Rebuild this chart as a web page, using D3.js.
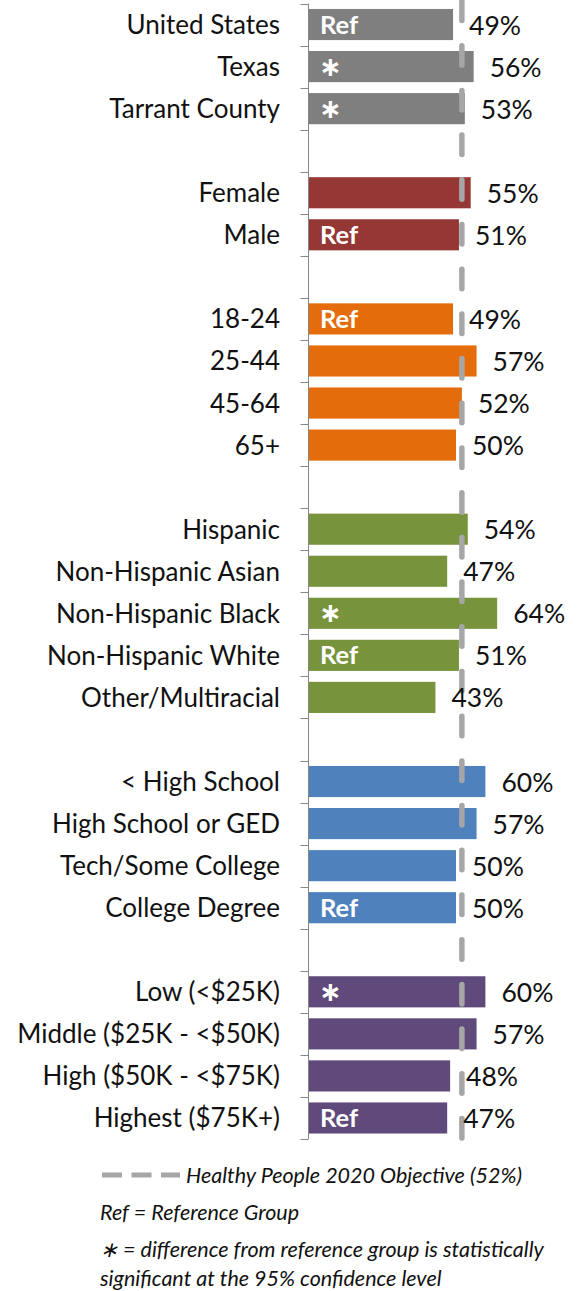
<!DOCTYPE html>
<html>
<head>
<meta charset="utf-8">
<script src="https://cdn.jsdelivr.net/npm/d3@7"></script>
<style>
  html, body { margin: 0; padding: 0; background: #fff; }
  svg { display: block; }
</style>
</head>
<body>
<svg id="chart" width="580" height="1291"></svg>
<script>
// ---- data ----
const geoLabels = ["United States", "Texas", "Tarrant County"];
const geoValues = [49, 56, 53];
const geoNotes = ["Ref", "*", "*"];

const genderLabels = ["Female", "Male"];
const genderValues = [55, 51];
const genderNotes = ["", "Ref"];

const ageLabels = ["18-24", "25-44", "45-64", "65+"];
const ageValues = [49, 57, 52, 50];
const ageNotes = ["Ref", "", "", ""];

const raceLabels = ["Hispanic", "Non-Hispanic Asian", "Non-Hispanic Black", "Non-Hispanic White", "Other/Multiracial"];
const raceValues = [54, 47, 64, 51, 43];
const raceNotes = ["", "", "*", "Ref", ""];

const eduLabels = ["< High School", "High School or GED", "Tech/Some College", "College Degree"];
const eduValues = [60, 57, 50, 50];
const eduNotes = ["", "", "", "Ref"];

const incomeLabels = ["Low (<$25K)", "Middle ($25K - <$50K)", "High ($50K - <$75K)", "Highest ($75K+)"];
const incomeValues = [60, 57, 48, 47];
const incomeNotes = ["*", "", "", "Ref"];

const objective = 52;
const objectiveLabel = "Healthy People 2020 Objective (52%)";
const legendLines = ["Ref = Reference Group",
  "\u2217 = difference from reference group is statistically",
  "significant at the 95% confidence level"];

const groupColors = ["#7F7F7F", "#953735", "#E46C0A", "#77933C", "#4F81BD", "#604A7B"];

// ---- build rows (with spacer rows between groups) ----
const groups = [
  [geoLabels, geoValues, geoNotes],
  [genderLabels, genderValues, genderNotes],
  [ageLabels, ageValues, ageNotes],
  [raceLabels, raceValues, raceNotes],
  [eduLabels, eduValues, eduNotes],
  [incomeLabels, incomeValues, incomeNotes]
];
const rows = [];
groups.forEach((g, gi) => {
  if (gi > 0) rows.push({ key: "gap" + gi, spacer: true });
  g[0].forEach((lab, i) => rows.push({ key: "r" + rows.length, label: lab, value: g[1][i], note: g[2][i], color: groupColors[gi] }));
});

// ---- scales ----
const svg = d3.select("#chart");
const FONT = "Lato, 'Open Sans', sans-serif";

const x = d3.scaleLinear().domain([0, 100]).range([309, 603]);
const y = d3.scaleBand()
  .domain(rows.map(r => r.key))
  .range([3.5, 1139])
  .paddingInner(0.26)
  .paddingOuter(0.13);
const step = y.step();
const axisX = 308.5;

// ---- axis line & ticks at band boundaries ----
const boundaries = d3.range(rows.length + 1).map(i => y.range()[0] + i * step);
svg.append("line")
  .attr("x1", axisX).attr("x2", axisX)
  .attr("y1", boundaries[0]).attr("y2", boundaries[boundaries.length - 1])
  .attr("stroke", "#868686").attr("stroke-width", 1);
svg.selectAll("line.tick").data(boundaries).join("line")
  .attr("class", "tick")
  .attr("x1", axisX - 8).attr("x2", axisX)
  .attr("y1", d => Math.round(d) + 0.5).attr("y2", d => Math.round(d) + 0.5)
  .attr("stroke", "#868686").attr("stroke-width", 1);

const data = rows.filter(r => !r.spacer);

// ---- bars ----
svg.selectAll("rect.bar").data(data).join("rect")
  .attr("class", "bar")
  .attr("x", x(0))
  .attr("y", d => y(d.key))
  .attr("width", d => x(d.value) - x(0))
  .attr("height", y.bandwidth())
  .attr("fill", d => d.color);

// ---- objective dashed line ----
svg.append("line")
  .attr("x1", x(objective)).attr("x2", x(objective))
  .attr("y1", 1).attr("y2", 1139)
  .attr("stroke", "#A6A6A6").attr("stroke-width", 5.5)
  .attr("stroke-linecap", "round")
  .attr("stroke-dasharray", "19.5,25.2");

// ---- category labels ----
svg.selectAll("text.cat").data(data).join("text")
  .attr("class", "cat")
  .attr("x", 280)
  .attr("y", d => y(d.key) + y.bandwidth() / 2 + 9.5)
  .attr("text-anchor", "end")
  .attr("font-family", FONT)
  .attr("font-size", 26)
  .attr("fill", "#111")
  .text(d => d.label);

// ---- value labels ----
svg.selectAll("text.val").data(data).join("text")
  .attr("class", "val")
  .attr("x", d => x(d.value) + 16)
  .attr("y", d => y(d.key) + y.bandwidth() / 2 + 10)
  .attr("font-family", FONT)
  .attr("font-size", 26.5)
  .attr("fill", "#111")
  .text(d => d.value + "%");

// ---- notes inside bars ----
const refNotes = data.filter(d => d.note === "Ref");
const starNotes = data.filter(d => d.note === "*");
svg.selectAll("text.ref").data(refNotes).join("text")
  .attr("class", "ref")
  .attr("x", 320)
  .attr("y", d => y(d.key) + y.bandwidth() / 2 + 9)
  .attr("font-family", FONT)
  .attr("font-weight", "bold")
  .attr("font-size", 25.5)
  .attr("fill", "#fff")
  .text(d => d.note);
svg.selectAll("text.star").data(starNotes).join("text")
  .attr("class", "star")
  .attr("x", 319)
  .attr("y", d => y(d.key) + y.bandwidth() / 2 + 9)
  .attr("font-family", "'DejaVu Sans', sans-serif")
  .attr("font-weight", "bold")
  .attr("font-size", 27)
  .attr("fill", "#fff")
  .text("\u2217");

// ---- legend ----
svg.append("line")
  .attr("x1", 102).attr("x2", 180)
  .attr("y1", 1175).attr("y2", 1175)
  .attr("stroke", "#A6A6A6").attr("stroke-width", 5)
  .attr("stroke-dasharray", "20,9.5");
svg.append("text")
  .attr("x", 186).attr("y", 1183)
  .attr("font-family", FONT).attr("font-style", "italic")
  .attr("font-size", 21.5).attr("fill", "#111")
  .text(objectiveLabel);
const legendY = [1220, 1257, 1286];
svg.selectAll("text.leg").data(legendLines).join("text")
  .attr("class", "leg")
  .attr("x", 100)
  .attr("y", (d, i) => legendY[i])
  .attr("font-family", FONT).attr("font-style", "italic")
  .attr("font-size", 21.5).attr("fill", "#111")
  .text(d => d);
</script>
</body>
</html>
